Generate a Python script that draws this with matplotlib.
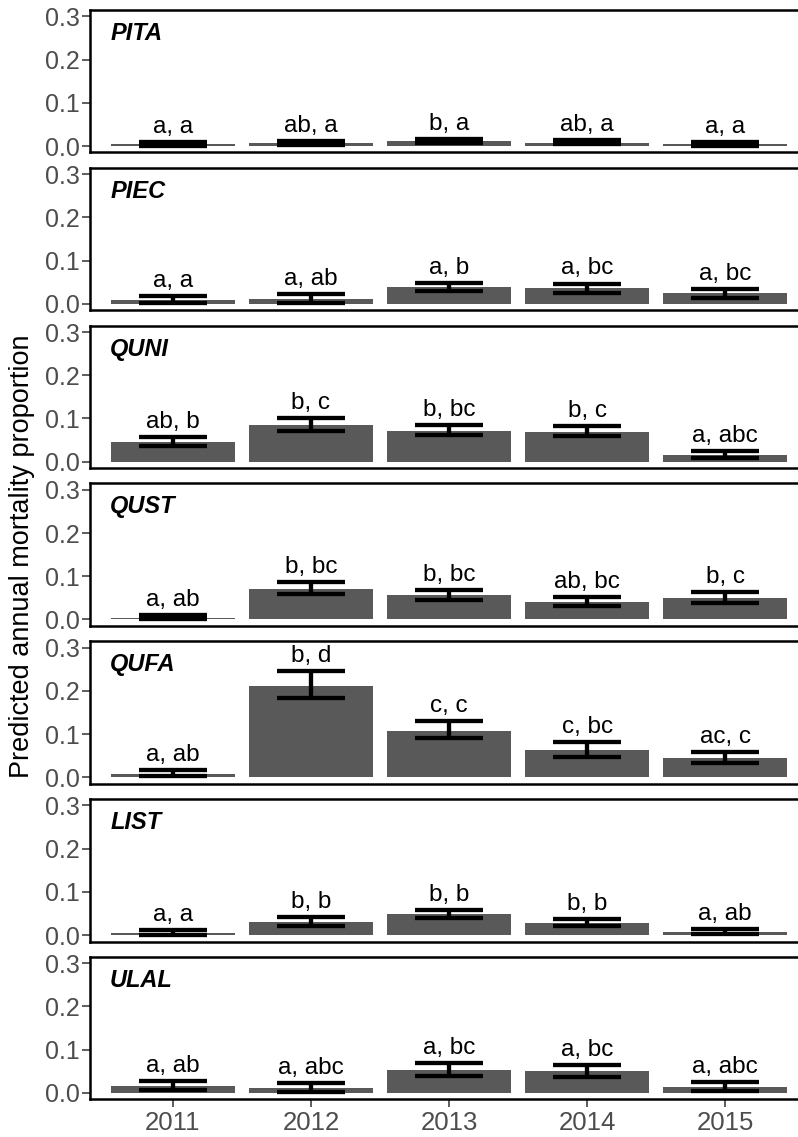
import matplotlib
matplotlib.use("Agg")
import matplotlib.pyplot as plt

plt.rcParams['font.family'] = ['Liberation Sans', 'DejaVu Sans']

years = ["2011", "2012", "2013", "2014", "2015"]
species = ["PITA", "PIEC", "QUNI", "QUST", "QUFA", "LIST", "ULAL"]

# predicted proportion, lower / upper error bar, letters
pita_mean = [0.004, 0.006, 0.012, 0.008, 0.004]
pita_lo = [0.001, 0.002, 0.007, 0.004, 0.001]
pita_hi = [0.009, 0.011, 0.017, 0.013, 0.009]
pita_lab = ["a, a", "ab, a", "b, a", "ab, a", "a, a"]

piec_mean = [0.009, 0.011, 0.039, 0.036, 0.024]
piec_lo = [0.002, 0.002, 0.029, 0.024, 0.014]
piec_hi = [0.019, 0.023, 0.049, 0.047, 0.034]
piec_lab = ["a, a", "a, ab", "a, b", "a, bc", "a, bc"]

quni_mean = [0.046, 0.085, 0.072, 0.069, 0.016]
quni_lo = [0.037, 0.070, 0.062, 0.060, 0.009]
quni_hi = [0.057, 0.101, 0.084, 0.082, 0.024]
quni_lab = ["ab, b", "b, c", "b, bc", "b, c", "a, abc"]

qust_mean = [0.004, 0.071, 0.056, 0.040, 0.050]
qust_lo = [0.001, 0.058, 0.046, 0.031, 0.039]
qust_hi = [0.010, 0.087, 0.069, 0.052, 0.063]
qust_lab = ["a, ab", "b, bc", "b, bc", "ab, bc", "b, c"]

qufa_mean = [0.008, 0.212, 0.108, 0.064, 0.044]
qufa_lo = [0.002, 0.183, 0.091, 0.047, 0.032]
qufa_hi = [0.017, 0.245, 0.130, 0.081, 0.059]
qufa_lab = ["a, ab", "b, d", "c, c", "c, bc", "ac, c"]

list_mean = [0.005, 0.031, 0.048, 0.028, 0.008]
list_lo = [0.001, 0.021, 0.040, 0.020, 0.002]
list_hi = [0.012, 0.042, 0.059, 0.038, 0.014]
list_lab = ["a, a", "b, b", "b, b", "b, b", "a, ab"]

ulal_mean = [0.016, 0.011, 0.053, 0.050, 0.014]
ulal_lo = [0.007, 0.002, 0.040, 0.037, 0.005]
ulal_hi = [0.028, 0.022, 0.069, 0.065, 0.025]
ulal_lab = ["a, ab", "a, abc", "a, bc", "a, bc", "a, abc"]

means = [pita_mean, piec_mean, quni_mean, qust_mean, qufa_mean, list_mean, ulal_mean]
lows = [pita_lo, piec_lo, quni_lo, qust_lo, qufa_lo, list_lo, ulal_lo]
highs = [pita_hi, piec_hi, quni_hi, qust_hi, qufa_hi, list_hi, ulal_hi]
labels = [pita_lab, piec_lab, quni_lab, qust_lab, qufa_lab, list_lab, ulal_lab]

W, H = 798, 1137
fig = plt.figure(figsize=(W / 100, H / 100), dpi=100)

x = list(range(1, len(years) + 1))
left_px, right_px = 90, 808
top0, pitch, ph = 10, 157.8, 142.5

for i, sp in enumerate(species):
    top = top0 + i * pitch
    ax = fig.add_axes([left_px / W, 1 - (top + ph) / H, (right_px - left_px) / W, ph / H])
    m, lo, hi = means[i], lows[i], highs[i]
    ax.bar(x, m, width=0.9, color="#595959", zorder=1)
    yerr = [[m[k] - lo[k] for k in range(5)], [hi[k] - m[k] for k in range(5)]]
    ax.errorbar(x, m, yerr=yerr, fmt="none", ecolor="black", elinewidth=3.1,
                capsize=24.5, capthick=3.1, zorder=2)
    for k in range(5):
        ax.annotate(labels[i][k], (x[k], hi[k]), xytext=(0, 6.5), textcoords="offset points",
                    ha="center", va="baseline", fontsize=17.5, color="black")
    ax.text(0.028, 0.79, sp, transform=ax.transAxes, fontsize=17, fontweight="bold",
            fontstyle="italic", ha="left", va="baseline")
    ax.set_xlim(0.4, 5.6)
    ax.set_ylim(-0.015, 0.315)
    ax.set_yticks([0.0, 0.1, 0.2, 0.3])
    ax.set_yticklabels(["0.0", "0.1", "0.2", "0.3"])
    ax.tick_params(axis="y", length=5.5, width=1.1, color="#333333", labelsize=18,
                   labelcolor="#4D4D4D", pad=2)
    for s in ax.spines.values():
        s.set_linewidth(1.8)
        s.set_color("black")
    if i == len(species) - 1:
        ax.set_xticks(x)
        ax.set_xticklabels(years)
        ax.tick_params(axis="x", length=5.5, width=1.1, color="#333333", labelsize=18.5,
                       labelcolor="#4D4D4D", pad=3)
    else:
        ax.set_xticks([])

fig.text(22 / W, 1 - 556 / H, "Predicted annual mortality proportion", rotation=90,
         ha="center", va="center", fontsize=19.5, color="black")

plt.savefig("out.png", dpi=100)
